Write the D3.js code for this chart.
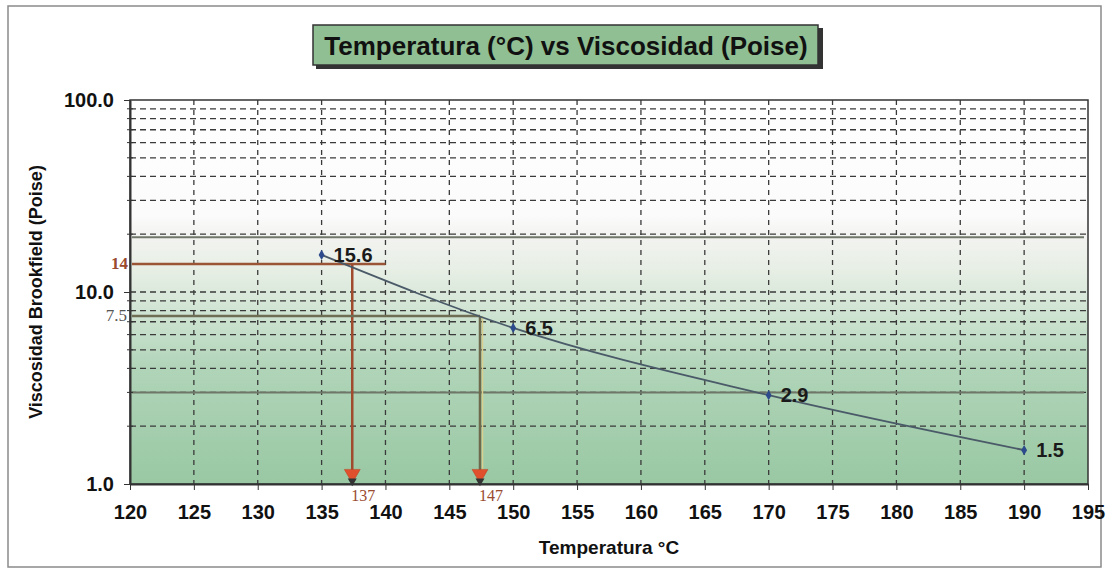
<!DOCTYPE html>
<html><head><meta charset="utf-8">
<script src="https://cdn.jsdelivr.net/npm/d3@7"></script>
<style>body{margin:0;background:#fff}svg{display:block}</style>
</head><body>
<svg id="c" width="1107" height="570"></svg>
<script>
// ---- data ----
const temps = [135, 150, 170, 190];
const visc = [15.6, 6.5, 2.9, 1.5];
const xTicks = [120,125,130,135,140,145,150,155,160,165,170,175,180,185,190,195];
const yMajor = [1, 10, 100];
const refLines = [19.3, 3.0];
const annotY = [14, 7.5];
const annotYLabels = ["14", "7.5"];
const annotX = [137.4, 147.4];
const annotXLabels = ["137", "147"];
const title = "Temperatura (°C) vs Viscosidad (Poise)";
const xTitle = "Temperatura °C";
const yTitle = "Viscosidad Brookfield (Poise)";

const FONT = "Liberation Sans, Arial, sans-serif";
const svg = d3.select("#c");
const L = 130, R = 1088, T = 100, B = 484;
const x = d3.scaleLinear().domain([120,195]).range([L,R]);
const y = d3.scaleLog().domain([1,100]).range([B,T]);

// outer frame
svg.append("rect").attr("x",8).attr("y",6).attr("width",1093).attr("height",561)
  .attr("fill","none").attr("stroke","#8a8a8a").attr("stroke-width",1.5);

// background gradient
const defs = svg.append("defs");
const g = defs.append("linearGradient").attr("id","bg").attr("gradientUnits","userSpaceOnUse")
  .attr("x1",0).attr("x2",0).attr("y1",T).attr("y2",B);
[[0,"#ffffff"],[0.3,"#fbfbfb"],[0.36,"#f2f3f0"],[0.45,"#e6eee4"],[0.55,"#d0e4d3"],[0.7,"#b0d4b8"],[1,"#99c8a3"]]
  .forEach(d=>g.append("stop").attr("offset",d[0]).attr("stop-color",d[1]));
svg.append("rect").attr("x",L).attr("y",T).attr("width",R-L).attr("height",B-T).attr("fill","url(#bg)");

// grid
const minor = [];
[1,10].forEach(dec=>{for(let k=2;k<=10;k++) minor.push(dec*k);});
svg.append("g").selectAll("line").data(minor.filter(v=>v<100)).join("line")
  .attr("x1",L).attr("x2",R).attr("y1",d=>y(d)).attr("y2",d=>y(d))
  .attr("stroke","#3a3a3a").attr("stroke-width",1.3).attr("stroke-dasharray","6,4");
svg.append("g").selectAll("line").data(xTicks.filter(v=>v>120&&v<195)).join("line")
  .attr("x1",d=>x(d)).attr("x2",d=>x(d)).attr("y1",T).attr("y2",B)
  .attr("stroke","#3a3a3a").attr("stroke-width",1.3).attr("stroke-dasharray","5,5");

// reference solid lines
svg.append("g").selectAll("line").data(refLines).join("line")
  .attr("x1",L+2).attr("x2",R-4).attr("y1",d=>y(d)).attr("y2",d=>y(d))
  .attr("stroke","#6f7768").attr("stroke-width",2);

// annotations
const ag = svg.append("g");
const hColors = ["#9a5536","#6e6e55"];
const vColors = ["#a04a2e","#6e6a4e"];
annotY.forEach((v,i)=>{
  const xe = i===0 ? x(140) : x(annotX[1]);
  ag.append("line").attr("x1",L+2).attr("x2",xe).attr("y1",y(v)).attr("y2",y(v))
    .attr("stroke",hColors[i]).attr("stroke-width",2.5);
  if(i===1) ag.append("line").attr("x1",x(annotX[i])+2.5).attr("x2",x(annotX[i])+2.5).attr("y1",y(v)).attr("y2",B-12)
    .attr("stroke","#d9cf8e").attr("stroke-width",1.5);
  ag.append("line").attr("x1",x(annotX[i])).attr("x2",x(annotX[i])).attr("y1",y(v)).attr("y2",B-8)
    .attr("stroke",vColors[i]).attr("stroke-width",2.5);
  ag.append("path").attr("d",d3.symbol().type(d3.symbolTriangle).size(110)())
    .attr("transform",`translate(${x(annotX[i])},${B-10}) rotate(180)`)
    .attr("fill","#e0502c").attr("stroke","#b84020").attr("stroke-width",0.5);
  ag.append("path").attr("d",d3.symbol().type(d3.symbolTriangle).size(35)())
    .attr("transform",`translate(${x(annotX[i])},${B-3}) rotate(180)`).attr("fill","#333");
  ag.append("text").attr("x",L-2-(i===1?1:0)).attr("y",y(v)+5).attr("text-anchor","end")
    .attr("font-family","Liberation Serif, serif").attr("font-size",17).attr("font-weight",i===0?"bold":"normal")
    .attr("fill",i===0?"#9a4a2e":"#555").text(annotYLabels[i]);
  ag.append("text").attr("x",x(annotX[i])-1).attr("y",B+17).attr("text-anchor","start")
    .attr("font-family","Liberation Serif, serif").attr("font-size",16)
    .attr("fill","#9a4a2e").text(annotXLabels[i]);
});

// plot border
svg.append("rect").attr("x",L).attr("y",T).attr("width",R-L).attr("height",B-T)
  .attr("fill","none").attr("stroke","#333").attr("stroke-width",1.5);

// axes
const xa = svg.append("g").attr("transform",`translate(0,${B})`)
  .call(d3.axisBottom(x).tickValues(xTicks).tickSize(6).tickSizeOuter(0).tickFormat(d3.format("d")));
xa.select(".domain").attr("stroke","#333").attr("stroke-width",2);
xa.selectAll("line").attr("stroke","#333");
xa.selectAll("text").attr("font-family",FONT).attr("font-weight","bold")
  .attr("font-size",20).attr("fill","#111").attr("y",35).attr("dy",0);

const ya = svg.append("g").attr("transform",`translate(${L},0)`)
  .call(d3.axisLeft(y).tickValues(yMajor).tickSize(6).tickSizeOuter(0).tickFormat(d3.format(".1f")));
ya.select(".domain").attr("stroke","#333").attr("stroke-width",2);
ya.selectAll("line").attr("stroke","#333");
ya.selectAll("text").attr("font-family",FONT).attr("font-weight","bold")
  .attr("font-size",20).attr("fill","#111").attr("x",-16);
svg.append("g").selectAll("line").data(minor.filter(v=>v<100 && v!==10)).join("line")
  .attr("x1",L-3).attr("x2",L+3).attr("y1",d=>y(d)).attr("y2",d=>y(d)).attr("stroke","#333");

// series
const pts = temps.map((t,i)=>[t,visc[i]]);
svg.append("path").datum(pts)
  .attr("d",d3.line().x(d=>x(d[0])).y(d=>y(d[1])).curve(d3.curveMonotoneX))
  .attr("fill","none").attr("stroke","#4a5a68").attr("stroke-width",1.8);
svg.append("g").selectAll("path").data(pts).join("path")
  .attr("d",d3.symbol().type(d3.symbolDiamond).size(30)())
  .attr("transform",d=>`translate(${x(d[0])},${y(d[1])})`).attr("fill","#2c4a8c");
svg.append("g").selectAll("text").data(pts).join("text")
  .attr("x",d=>x(d[0])+12).attr("y",d=>y(d[1])+7)
  .attr("font-family",FONT).attr("font-size",20).attr("font-weight","bold")
  .attr("fill","#1a1a1a").text(d=>d3.format(".1f")(d[1]));

// axis titles
svg.append("text").attr("x",(L+R)/2).attr("y",554).attr("text-anchor","middle")
  .attr("font-family",FONT).attr("font-weight","bold")
  .attr("font-size",19).attr("fill","#111").text(xTitle);
svg.append("text").attr("transform",`translate(42,${(T+B)/2}) rotate(-90)`).attr("text-anchor","middle")
  .attr("font-family",FONT).attr("font-weight","bold")
  .attr("font-size",18).attr("fill","#111").text(yTitle);

// title box
svg.append("rect").attr("x",316).attr("y",28).attr("width",507).attr("height",41).attr("fill","#333");
svg.append("rect").attr("x",313).attr("y",25).attr("width",505).attr("height",40)
  .attr("fill","#8fbf92").attr("stroke","#333").attr("stroke-width",1.5);
svg.append("text").attr("x",566).attr("y",55).attr("text-anchor","middle")
  .attr("font-family",FONT).attr("font-weight","bold")
  .attr("font-size",26).attr("fill","#111").text(title);
</script>
</body></html>
